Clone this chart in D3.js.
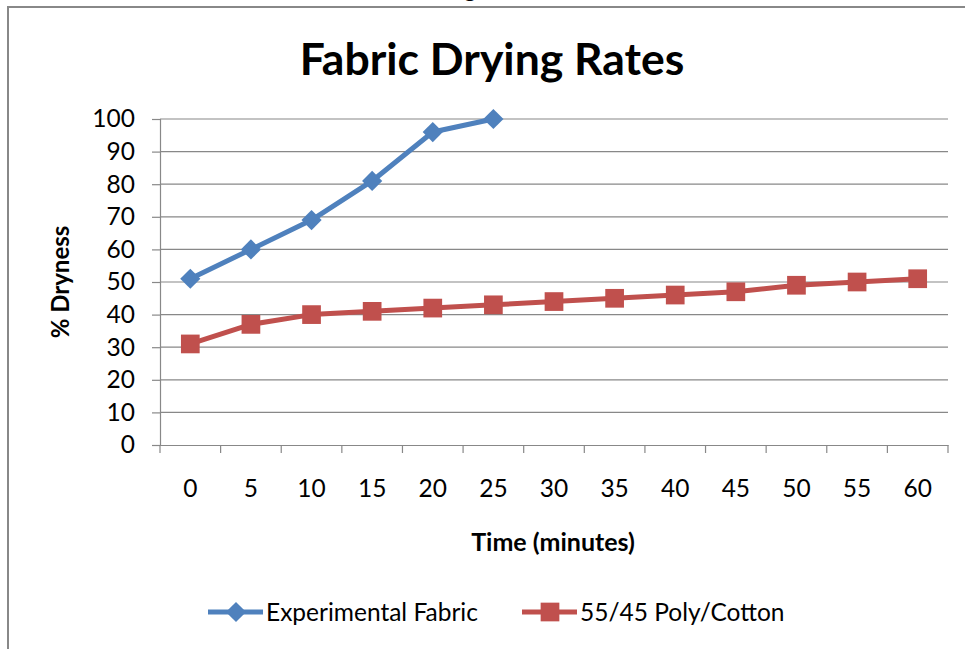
<!DOCTYPE html>
<html>
<head>
<meta charset="utf-8">
<script src="https://cdn.jsdelivr.net/npm/d3@7"></script>
<style>
  body { margin: 0; background: #fff; }
  svg { display: block; font-family: Lato, "Open Sans", sans-serif; }
</style>
</head>
<body>
<div id="chart"></div>
<script>
// data
const times = ['0', '5', '10', '15', '20', '25', '30', '35', '40', '45', '50', '55', '60'];
const experimental = [51, 60, 69, 81, 96, 100];
const polyCotton = [31, 37, 40, 41, 42, 43, 44, 45, 46, 47, 49, 50, 51];
const yTicks = [0, 10, 20, 30, 40, 50, 60, 70, 80, 90, 100];
const seriesNames = ['Experimental Fabric', '55/45 Poly/Cotton'];

const W = 965, H = 649;
const plot = { left: 160, right: 948, top: 119, bottom: 445 };
const blue = '#4F81BD', red = '#C0504D', grid = '#888888';

const svg = d3.select('#chart').append('svg')
    .attr('width', W)
    .attr('height', H);

// chart frame (runs off the right and bottom edges)
svg.append('rect')
    .attr('x', 8).attr('y', 7)
    .attr('width', 975).attr('height', 660)
    .attr('fill', 'none')
    .attr('stroke', '#888')
    .attr('stroke-width', 2);

// tail of a caption sitting above the frame
svg.append('text')
    .attr('x', 470).attr('y', -3)
    .attr('text-anchor', 'middle')
    .attr('font-size', 22)
    .text('g');

const x = d3.scaleBand()
    .domain(times)
    .range([plot.left, plot.right]);

const y = d3.scaleLinear()
    .domain([0, 100])
    .range([plot.bottom, plot.top]);

// gridlines
svg.append('g')
    .selectAll('line')
    .data(yTicks.slice(1))
    .join('line')
    .attr('x1', plot.left).attr('x2', plot.right)
    .attr('y1', d => y(d)).attr('y2', d => y(d))
    .attr('stroke', grid)
    .attr('stroke-width', 1.2);

// y axis
const yAxis = svg.append('g')
    .attr('transform', `translate(${plot.left},0)`)
    .call(d3.axisLeft(y).tickValues(yTicks).tickSize(8).tickPadding(17));
yAxis.select('.domain').attr('stroke', grid).attr('stroke-width', 1.2);
yAxis.selectAll('.tick line').attr('stroke', grid).attr('stroke-width', 1.2);
yAxis.selectAll('.tick text')
    .attr('font-size', 24.5)
    .attr('font-family', 'Lato, sans-serif')
    .attr('fill', '#000');

// x axis (labels at band centres, tick marks on band edges)
const xAxis = svg.append('g')
    .attr('transform', `translate(0,${plot.bottom})`)
    .call(d3.axisBottom(x).tickSize(0).tickPadding(35).tickSizeOuter(0));
xAxis.select('.domain').attr('stroke', grid).attr('stroke-width', 1.2);
xAxis.selectAll('.tick text')
    .attr('font-size', 24.5)
    .attr('font-family', 'Lato, sans-serif')
    .attr('fill', '#000');
xAxis.selectAll('.edge')
    .data(d3.range(times.length + 1))
    .join('line')
    .attr('class', 'edge')
    .attr('x1', i => plot.left + i * x.step())
    .attr('x2', i => plot.left + i * x.step())
    .attr('y1', 0).attr('y2', 8)
    .attr('stroke', grid)
    .attr('stroke-width', 1.2);

// lines
const line = d3.line()
    .x((d, i) => x(times[i]) + x.bandwidth() / 2)
    .y(d => y(d));

svg.append('path')
    .datum(polyCotton)
    .attr('d', line)
    .attr('fill', 'none')
    .attr('stroke', red)
    .attr('stroke-width', 5)
    .attr('stroke-linejoin', 'round');

svg.append('path')
    .datum(experimental)
    .attr('d', line)
    .attr('fill', 'none')
    .attr('stroke', blue)
    .attr('stroke-width', 5)
    .attr('stroke-linejoin', 'round');

// markers
const square = d3.symbol().type(d3.symbolSquare).size(350);
const diamond = d3.symbol().type(d3.symbolDiamond2).size(260);

svg.append('g')
    .selectAll('path')
    .data(polyCotton)
    .join('path')
    .attr('d', square)
    .attr('transform', (d, i) => `translate(${x(times[i]) + x.bandwidth() / 2},${y(d)})`)
    .attr('fill', red);

svg.append('g')
    .selectAll('path')
    .data(experimental)
    .join('path')
    .attr('d', diamond)
    .attr('transform', (d, i) => `translate(${x(times[i]) + x.bandwidth() / 2},${y(d)})`)
    .attr('fill', blue);

// titles
svg.append('text')
    .attr('x', 492).attr('y', 75)
    .attr('text-anchor', 'middle')
    .attr('font-size', 44.5)
    .attr('font-weight', 'bold')
    .text('Fabric Drying Rates');

svg.append('text')
    .attr('x', 553).attr('y', 551)
    .attr('text-anchor', 'middle')
    .attr('font-size', 25)
    .attr('font-weight', 'bold')
    .text('Time (minutes)');

svg.append('text')
    .attr('transform', `translate(69,${(plot.top + plot.bottom) / 2}) rotate(-90)`)
    .attr('text-anchor', 'middle')
    .attr('font-size', 24)
    .attr('font-weight', 'bold')
    .text('% Dryness');

// legend
const legendItems = [
    { name: seriesNames[0], color: blue, symbol: diamond, x0: 208 },
    { name: seriesNames[1], color: red, symbol: square, x0: 522 }
];
const legend = svg.append('g').attr('transform', 'translate(0,612)');
legendItems.forEach(item => {
    legend.append('line')
        .attr('x1', item.x0).attr('x2', item.x0 + 55)
        .attr('y1', 0).attr('y2', 0)
        .attr('stroke', item.color)
        .attr('stroke-width', 5);
    legend.append('path')
        .attr('d', item.symbol)
        .attr('transform', `translate(${item.x0 + 28},0)`)
        .attr('fill', item.color);
    legend.append('text')
        .attr('x', item.x0 + 58).attr('y', 9)
        .attr('font-size', 24.5)
        .text(item.name);
});
</script>
</body>
</html>
